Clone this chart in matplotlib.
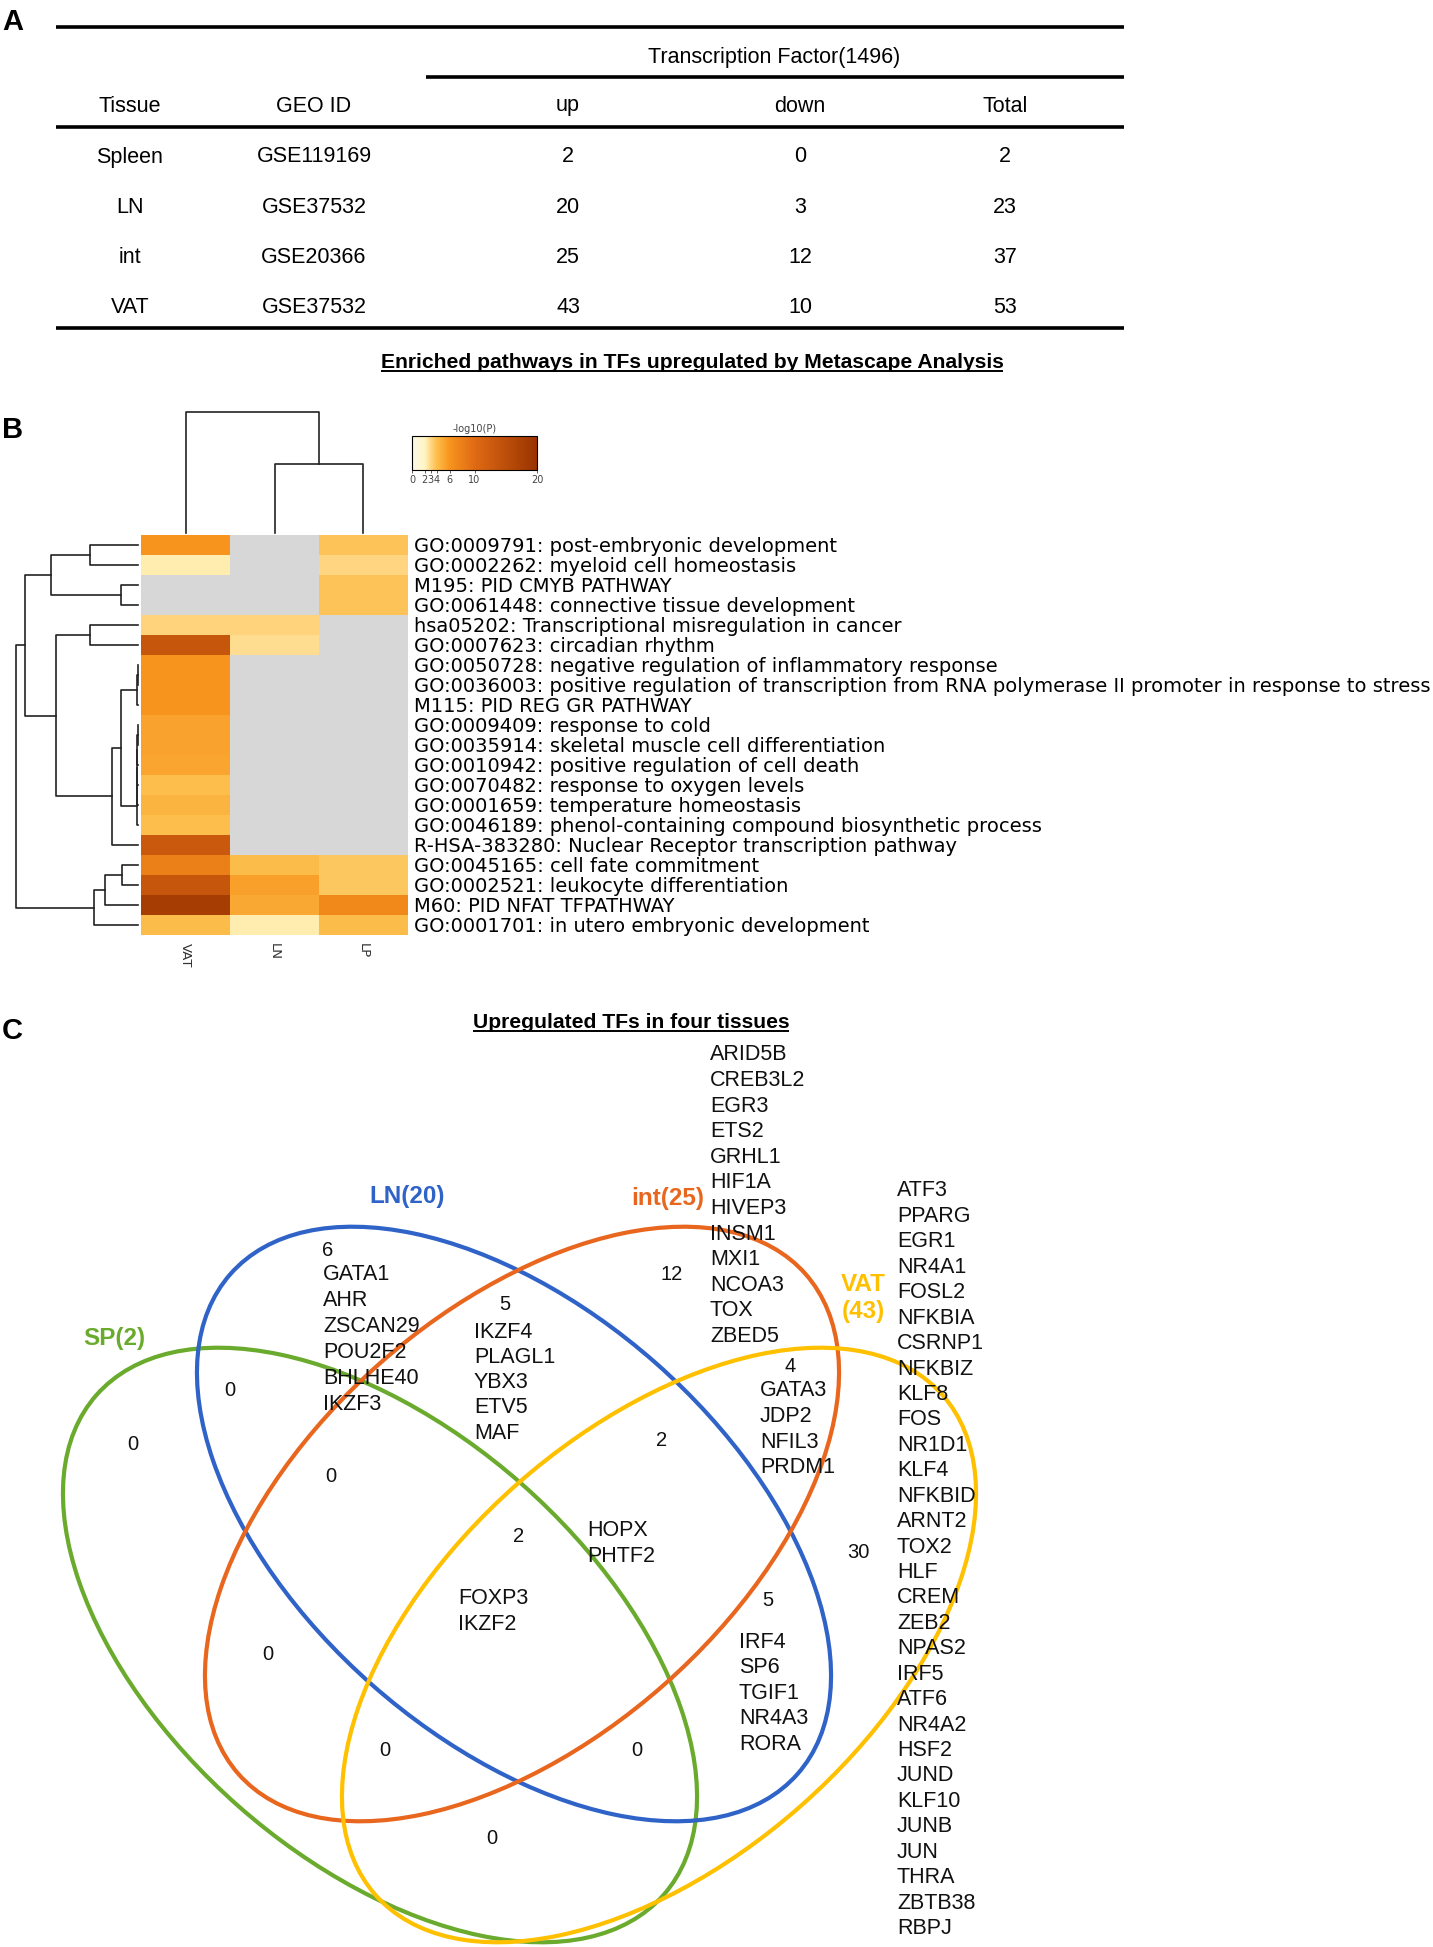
import numpy as np
import matplotlib
matplotlib.use("Agg")
import matplotlib.pyplot as plt
from matplotlib.patches import Ellipse
from matplotlib.colors import LinearSegmentedColormap, Normalize
from matplotlib.cm import ScalarMappable

W, H, DPI = 1433, 1947, 100

# ---------------- data: panel A table ----------------
tissues = ["Spleen", "LN", "int", "VAT"]
geo_ids = ["GSE119169", "GSE37532", "GSE20366", "GSE37532"]
tf_up = [2, 20, 25, 43]
tf_down = [0, 3, 12, 10]
tf_total = [2, 23, 37, 53]
table_headers = ["Tissue", "GEO ID", "up", "down", "Total"]

# ---------------- data: panel B heatmap ----------------
pathways = [
    "GO:0009791: post-embryonic development",
    "GO:0002262: myeloid cell homeostasis",
    "M195: PID CMYB PATHWAY",
    "GO:0061448: connective tissue development",
    "hsa05202: Transcriptional misregulation in cancer",
    "GO:0007623: circadian rhythm",
    "GO:0050728: negative regulation of inflammatory response",
    "GO:0036003: positive regulation of transcription from RNA polymerase II promoter in response to stress",
    "M115: PID REG GR PATHWAY",
    "GO:0009409: response to cold",
    "GO:0035914: skeletal muscle cell differentiation",
    "GO:0010942: positive regulation of cell death",
    "GO:0070482: response to oxygen levels",
    "GO:0001659: temperature homeostasis",
    "GO:0046189: phenol-containing compound biosynthetic process",
    "R-HSA-383280: Nuclear Receptor transcription pathway",
    "GO:0045165: cell fate commitment",
    "GO:0002521: leukocyte differentiation",
    "M60: PID NFAT TFPATHWAY",
    "GO:0001701: in utero embryonic development",
]
heat_columns = ["VAT", "LN", "LP"]
nan = np.nan
vat_logp = [6.0, 2.3, nan, nan, 3.1, 13.5, 6.0, 6.0, 6.0, 5.3, 5.3, 5.2, 4.0, 4.5, 4.0, 13.0, 8.0, 13.5, 18.0, 4.1]
ln_logp = [nan, nan, nan, nan, 3.1, 2.8, nan, nan, nan, nan, nan, nan, nan, nan, nan, nan, 4.1, 5.4, 5.0, 2.3]
lp_logp = [3.8, 3.0, 3.8, 3.8, nan, nan, nan, nan, nan, nan, nan, nan, nan, nan, nan, nan, 3.6, 3.6, 7.0, 4.1]

# dendrogram merges (child a, child b, height); leaves 0..n-1, new clusters n, n+1, ...
row_links = [
    (0, 1, 0.39), (2, 3, 0.136), (20, 21, 0.71), (4, 5, 0.39),
    (6, 7, 0.004), (24, 8, 0.007),
    (9, 10, 0.003), (26, 11, 0.005), (27, 12, 0.006), (28, 13, 0.007), (29, 14, 0.009),
    (25, 30, 0.136), (31, 15, 0.21), (23, 32, 0.675), (22, 33, 0.926),
    (16, 17, 0.13), (35, 18, 0.27), (36, 19, 0.36), (34, 37, 1.0),
]
col_links = [(1, 2, 0.57), (0, 3, 1.0)]

cbar_ticks = [0, 2, 3, 4, 6, 10, 20]
cmap_values = [0, 2, 3, 4, 6, 10, 20]
cmap_colors = ["#FBF8EC", "#FFF5C2", "#FFD580", "#FDBE4C", "#F7941D", "#E06A14", "#993300"]

# ---------------- data: panel C Venn ----------------
set_labels = ["SP(2)", "LN(20)", "int(25)", "VAT\n(43)"]
n_only_ln = 6
genes_only_ln = ["GATA1", "AHR", "ZSCAN29", "POU2F2", "BHLHE40", "IKZF3"]
n_ln_int = 5
genes_ln_int = ["IKZF4", "PLAGL1", "YBX3", "ETV5", "MAF"]
n_only_int = 12
genes_only_int = ["ARID5B", "CREB3L2", "EGR3", "ETS2", "GRHL1", "HIF1A", "HIVEP3",
                  "INSM1", "MXI1", "NCOA3", "TOX", "ZBED5"]
n_int_vat = 4
genes_int_vat = ["GATA3", "JDP2", "NFIL3", "PRDM1"]
n_only_vat = 30
genes_only_vat = ["ATF3", "PPARG", "EGR1", "NR4A1", "FOSL2", "NFKBIA", "CSRNP1", "NFKBIZ",
                  "KLF8", "FOS", "NR1D1", "KLF4", "NFKBID", "ARNT2", "TOX2", "HLF", "CREM",
                  "ZEB2", "NPAS2", "IRF5", "ATF6", "NR4A2", "HSF2", "JUND", "KLF10", "JUNB",
                  "JUN", "THRA", "ZBTB38", "RBPJ"]
n_ln_vat = 5
genes_ln_vat = ["IRF4", "SP6", "TGIF1", "NR4A3", "RORA"]
n_ln_int_vat = 2
genes_ln_int_vat = ["HOPX", "PHTF2"]
n_int_vat_only2 = 2
n_all4 = 2
genes_all4 = ["FOXP3", "IKZF2"]
n_empty = 0

# ---------------- figure ----------------
fig = plt.figure(figsize=(W / DPI, H / DPI), dpi=DPI)
canvas = fig.add_axes([0, 0, 1, 1])
canvas.set_xlim(0, W)
canvas.set_ylim(H, 0)
canvas.axis("off")

ARIAL = ["Liberation Sans", "DejaVu Sans"]
DEJ = ["DejaVu Sans"]


def px_axes(x0, y0, x1, y1):
    return fig.add_axes([x0 / W, 1 - y1 / H, (x1 - x0) / W, (y1 - y0) / H])


def underlined(x, y, s, size):
    t = canvas.text(x, y, s, ha="center", va="center", fontsize=size,
                    fontweight="bold", family=ARIAL)
    fig.canvas.draw()
    bb = t.get_window_extent(renderer=fig.canvas.get_renderer())
    inv = canvas.transData.inverted()
    (xa, ya), (xb, yb) = inv.transform([[bb.x0, bb.y0], [bb.x1, bb.y1]])
    yl = max(ya, yb) - 1
    canvas.plot([xa, xb], [yl, yl], color="black", lw=1.4, solid_capstyle="butt")


# panel letters
for letter, yy in [("A", 22), ("B", 430), ("C", 1031)]:
    canvas.text(2, yy, letter, ha="left", va="center", fontsize=21,
                fontweight="bold", family=ARIAL)

# ---------------- panel A table ----------------
lw_tab = 2.6
canvas.plot([56, 1124], [27, 27], color="black", lw=lw_tab, solid_capstyle="butt")
canvas.text(774, 57, "Transcription Factor(1496)", ha="center", va="center",
            fontsize=15.5, family=ARIAL)
canvas.plot([426, 1124], [77, 77], color="black", lw=lw_tab, solid_capstyle="butt")
col_x = [130, 314, 568, 800, 1005]
for cx, hd in zip(col_x, table_headers):
    canvas.text(cx, 106, hd, ha="center", va="center", fontsize=15.5, family=ARIAL)
canvas.plot([56, 1124], [127, 127], color="black", lw=lw_tab, solid_capstyle="butt")
row_y0, row_dy = 157, 50.3
for i in range(len(tissues)):
    vals = [tissues[i], geo_ids[i], tf_up[i], tf_down[i], tf_total[i]]
    for cx, v in zip(col_x, vals):
        canvas.text(cx, row_y0 + i * row_dy, str(v), ha="center", va="center",
                    fontsize=15.5, family=ARIAL)
canvas.plot([56, 1124], [328, 328], color="black", lw=lw_tab, solid_capstyle="butt")

underlined(692, 362, "Enriched pathways in TFs upregulated by Metascape Analysis", 15.2)

# ---------------- panel B heatmap ----------------
cmap = LinearSegmentedColormap.from_list(
    "metascape", [(v / 20.0, c) for v, c in zip(cmap_values, cmap_colors)])
cmap.set_bad("#D7D7D7")
norm = Normalize(0, 20)

mat = np.ma.masked_invalid(np.array([vat_logp, ln_logp, lp_logp]).T)
hx0, hy0, hx1, hy1 = 141, 535, 408, 935
ax_h = px_axes(hx0, hy0, hx1, hy1)
ax_h.imshow(mat, cmap=cmap, norm=norm, aspect="auto", interpolation="nearest")
for sp in ax_h.spines.values():
    sp.set_visible(False)
ax_h.yaxis.tick_right()
ax_h.set_yticks(range(len(pathways)))
ax_h.set_yticklabels(pathways, fontsize=14, family=DEJ)
ax_h.set_xticks(range(len(heat_columns)))
ax_h.set_xticklabels(heat_columns, rotation=270, fontsize=9.5, family=DEJ, color="#333333")
ax_h.tick_params(length=0, pad=4)
ax_h.tick_params(axis="x", pad=6)


def dendro_segments(n, links):
    pos = {i: float(i) for i in range(n)}
    hgt = {i: 0.0 for i in range(n)}
    segs = []
    for k, (a, b, h) in enumerate(links):
        segs.append(([hgt[a], h, h, hgt[b]], [pos[a], pos[a], pos[b], pos[b]]))
        pos[n + k] = (pos[a] + pos[b]) / 2
        hgt[n + k] = h
    return segs


# row dendrogram (left)
ax_rd = px_axes(16, hy0, 138, hy1)
for hs, ps in dendro_segments(len(pathways), row_links):
    ax_rd.plot(hs, ps, color="#222222", lw=1.2, clip_on=False)
ax_rd.set_xlim(1.0, 0.0)
ax_rd.set_ylim(len(pathways) - 0.5, -0.5)
ax_rd.axis("off")

# column dendrogram (top)
ax_cd = px_axes(hx0, 412, hx1, 533)
for hs, ps in dendro_segments(len(heat_columns), col_links):
    ax_cd.plot(ps, hs, color="#222222", lw=1.2, clip_on=False)
ax_cd.set_xlim(-0.5, len(heat_columns) - 0.5)
ax_cd.set_ylim(0.0, 1.0)
ax_cd.axis("off")

# colorbar
ax_cb = px_axes(412, 436, 537, 470)
cb = fig.colorbar(ScalarMappable(norm=norm, cmap=cmap), cax=ax_cb,
                  orientation="horizontal", ticks=cbar_ticks)
cb.outline.set_linewidth(0.8)
cb.ax.tick_params(labelsize=7, length=2, width=0.6, pad=1.5, colors="#444444")
cb.ax.set_title("-log10(P)", fontsize=7, pad=3, color="#444444", family=DEJ)

# ---------------- panel C Venn ----------------
underlined(631, 1022, "Upregulated TFs in four tissues", 15.2)

venn_colors = ["#6AAB2E", "#2F63C8", "#E8661E", "#FFC000"]
ell_w, ell_h, ell_ang = 756, 429, 41.4
ell_specs = [  # center x, center y, angle sign
    (380, 1645, 1), (514, 1524, 1), (522, 1524, -1), (659, 1645, -1)]
for (cx, cy, sgn), col in zip(ell_specs, venn_colors):
    canvas.add_patch(Ellipse((cx, cy), ell_w, ell_h, angle=sgn * ell_ang,
                             fill=False, edgecolor=col, lw=3.0))

# set labels
canvas.text(114, 1339, set_labels[0], color=venn_colors[0], fontsize=17.5,
            fontweight="bold", ha="center", va="center", family=ARIAL)
canvas.text(407, 1197, set_labels[1], color=venn_colors[1], fontsize=17.5,
            fontweight="bold", ha="center", va="center", family=ARIAL)
canvas.text(668, 1198, set_labels[2], color=venn_colors[2], fontsize=17.5,
            fontweight="bold", ha="center", va="center", family=ARIAL)
canvas.text(863, 1298, set_labels[3], color=venn_colors[3], fontsize=17.5,
            fontweight="bold", ha="center", va="center", family=ARIAL,
            linespacing=1.25)

GS = 15.5   # gene font size
NS = 14.5   # number font size


def gene_list(x, y, genes, step):
    for k, g in enumerate(genes):
        canvas.text(x, y + k * step, g, ha="left", va="center", fontsize=GS,
                    family=ARIAL, color="#111111")


def num(x, y, v):
    canvas.text(x, y, str(v), ha="center", va="center", fontsize=NS,
                family=ARIAL, color="#111111")


num(328, 1251, n_only_ln)
gene_list(323, 1275, genes_only_ln, 25.8)
num(505, 1305, n_ln_int)
gene_list(474, 1332, genes_ln_int, 25.3)
num(672, 1275, n_only_int)
gene_list(710, 1055, genes_only_int, 25.6)
num(790, 1366, n_int_vat)
gene_list(760, 1391, genes_int_vat, 25.6)
num(858, 1552, n_only_vat)
gene_list(897, 1191, genes_only_vat, 25.43)
num(768, 1601, n_ln_vat)
gene_list(739, 1642, genes_ln_vat, 25.6)
num(519, 1537, n_all4)
gene_list(587, 1531, genes_ln_int_vat, 26)
gene_list(458, 1598, genes_all4, 26)
num(662, 1441, n_int_vat_only2)
for zx, zy in [(230, 1390), (133, 1444), (331, 1476), (268, 1655),
               (385, 1751), (637, 1751), (492, 1838)]:
    num(zx, zy, n_empty)

fig.savefig("out.png", dpi=DPI)
